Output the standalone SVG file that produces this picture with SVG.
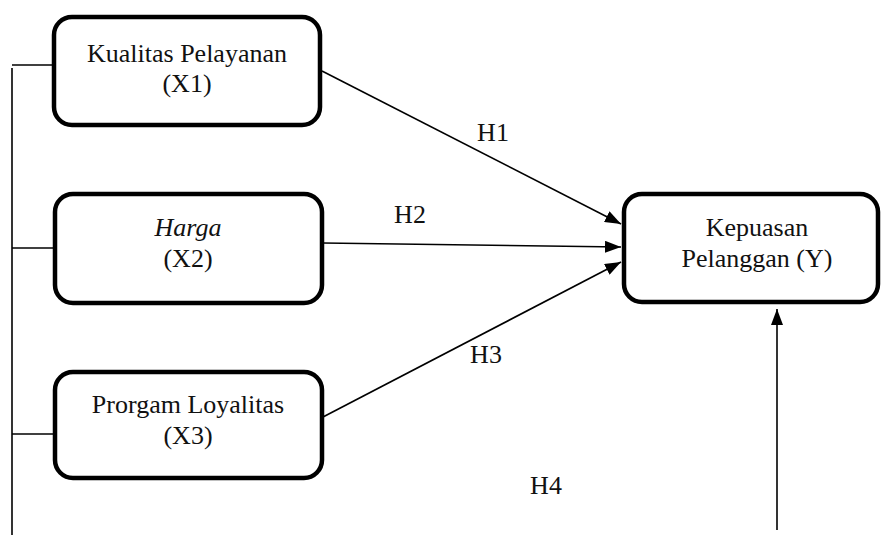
<svg xmlns="http://www.w3.org/2000/svg" width="882" height="535" viewBox="0 0 882 535">
<style>
.box{fill:#fff;stroke:#000;stroke-width:4.5}
.t{font-family:"Liberation Serif","Times New Roman",serif;font-size:26px;fill:#111;text-anchor:middle}
.ln{stroke:#000;stroke-width:1.6;fill:none}
</style>
<defs>
<marker id="ah" viewBox="0 0 16 12" refX="16" refY="6" markerWidth="16" markerHeight="12" markerUnits="userSpaceOnUse" orient="auto">
<path d="M0,0 L16,6 L0,12 z" fill="#000"/>
</marker>
</defs>
<rect width="882" height="535" fill="#fff"/>
<g id="connectors">
<path class="ln" d="M12,535 V68"/>
<path class="ln" d="M12,65 H52"/>
<path class="ln" d="M12,248 H53"/>
<path class="ln" d="M12,434 H53"/>
<path class="ln" d="M322,71 L621,224" marker-end="url(#ah)"/>
<path class="ln" d="M323,243 L621,247" marker-end="url(#ah)"/>
<path class="ln" d="M323,417 L621,262" marker-end="url(#ah)"/>
<path class="ln" d="M777,530 V309" marker-end="url(#ah)"/>
<text class="t" x="493" y="141">H1</text>
<text class="t" x="410" y="223">H2</text>
<text class="t" x="486" y="363">H3</text>
<text class="t" x="546" y="494">H4</text>
</g>
<g id="x1">
<rect class="box" x="54" y="17" width="266" height="108" rx="18"/>
<text class="t" x="187" y="62">Kualitas Pelayanan</text>
<text class="t" x="187" y="92">(X1)</text>
</g>
<g id="x2">
<rect class="box" x="55" y="194" width="267" height="109" rx="18"/>
<text class="t" x="188" y="236" font-style="italic">Harga</text>
<text class="t" x="188" y="267">(X2)</text>
</g>
<g id="x3">
<rect class="box" x="55" y="372" width="267" height="106" rx="18"/>
<text class="t" x="188" y="413">Prorgam Loyalitas</text>
<text class="t" x="188" y="444">(X3)</text>
</g>
<g id="y">
<rect class="box" x="624" y="194" width="254" height="108" rx="18"/>
<text class="t" x="757" y="236">Kepuasan</text>
<text class="t" x="757" y="267">Pelanggan (Y)</text>
</g>
</svg>
